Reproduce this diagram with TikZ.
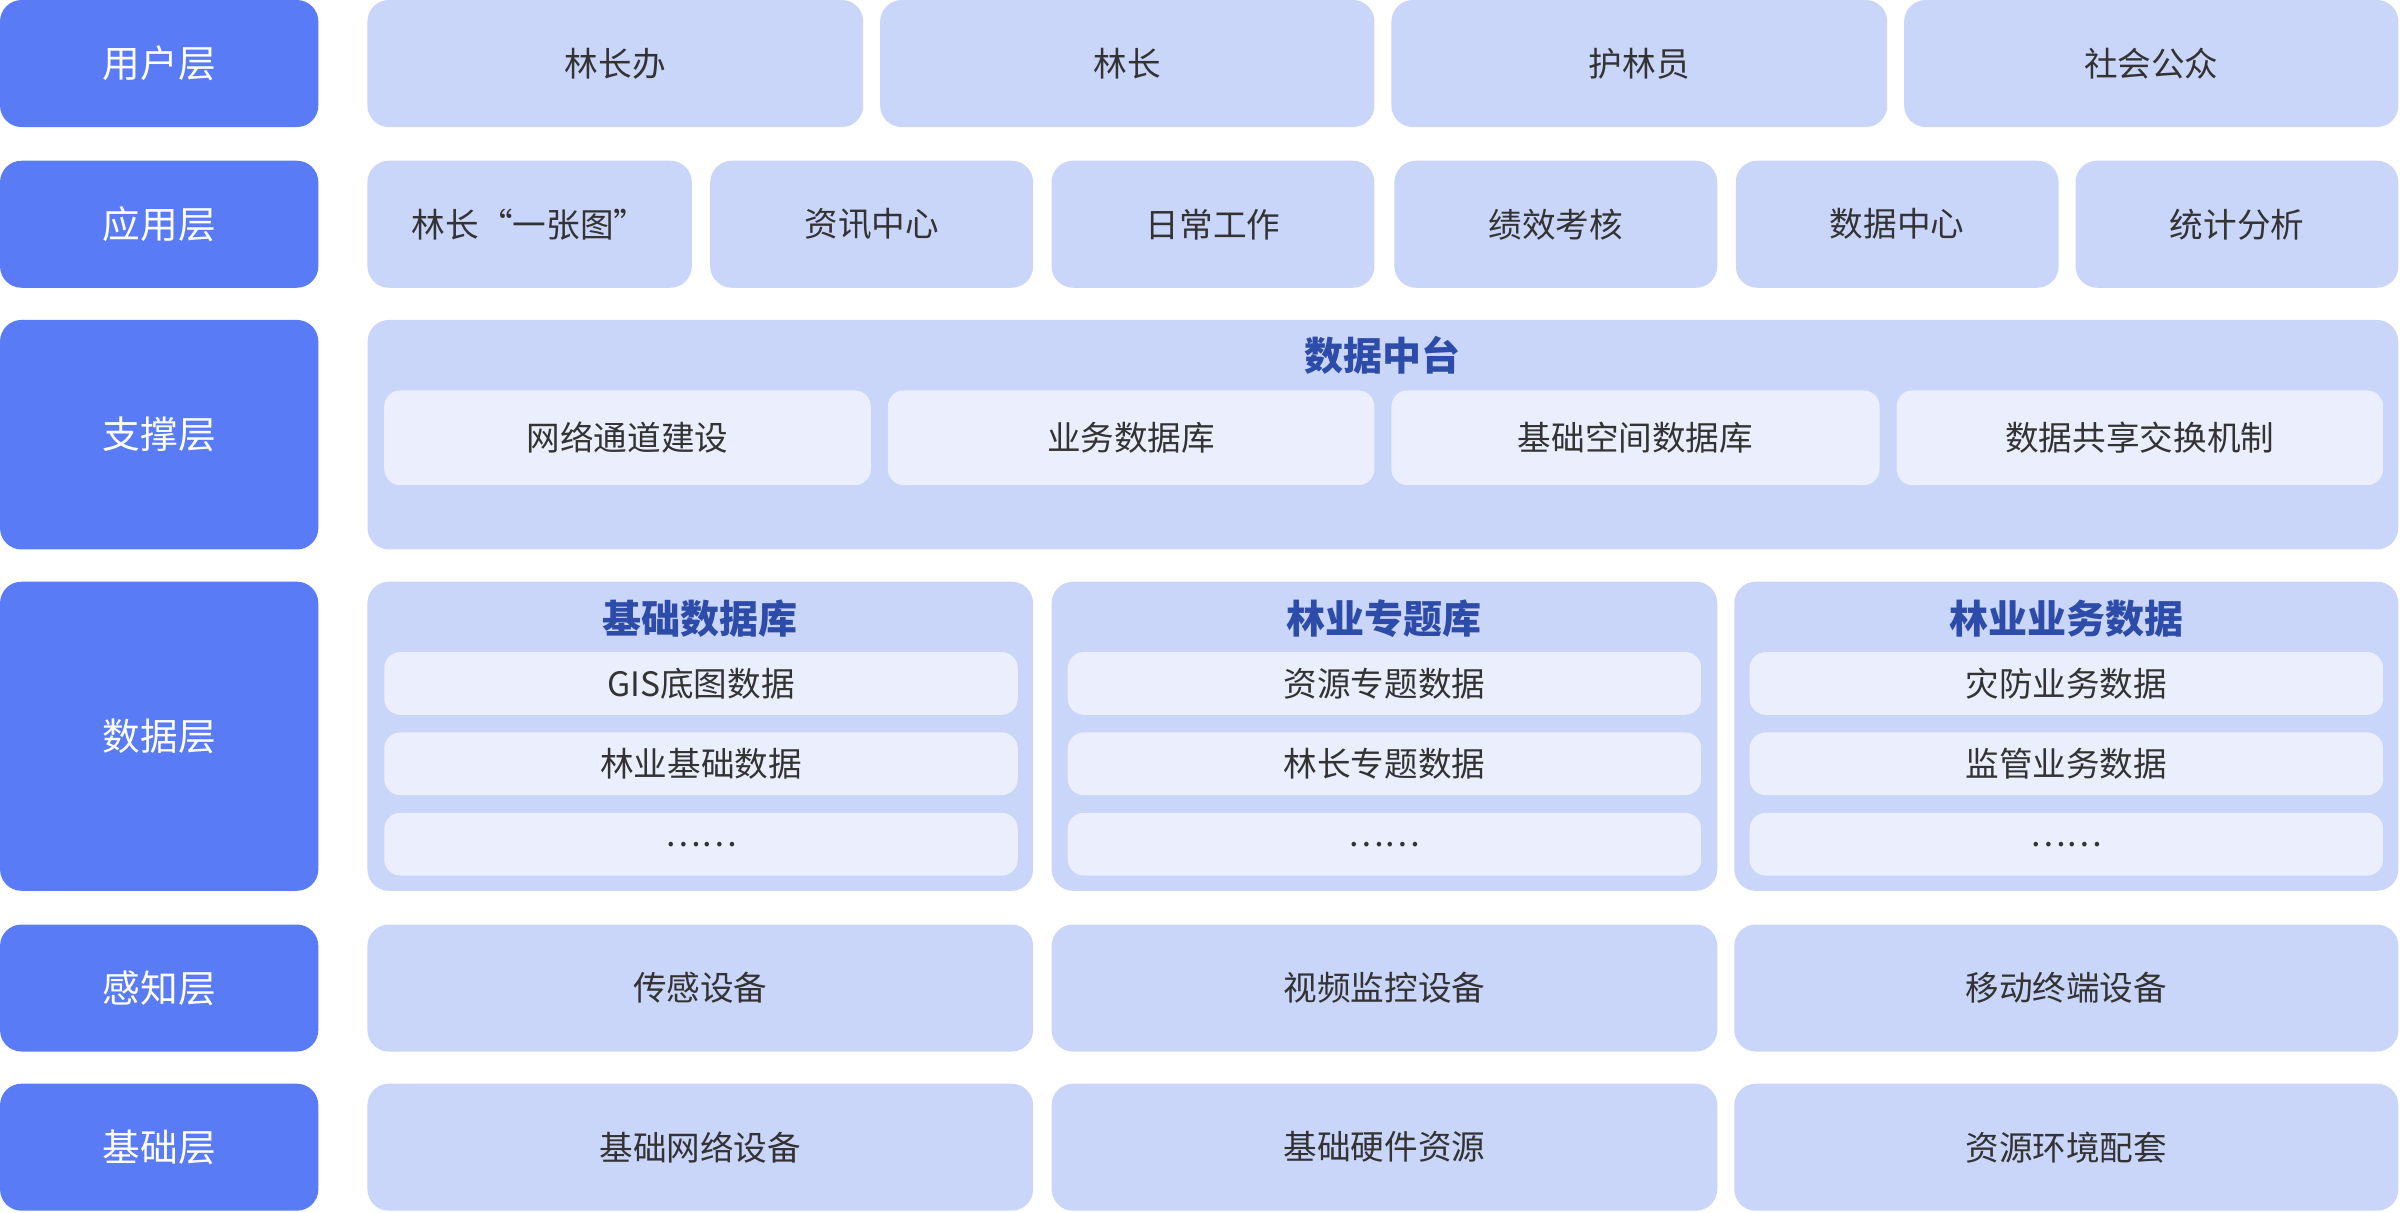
\documentclass[tikz,border=0pt]{standalone}
\usepackage{fontspec}
\setmainfont{Noto Sans CJK SC}
\usetikzlibrary{positioning}
\definecolor{layerblue}{HTML}{5A7BF6}
\definecolor{cellblue}{HTML}{C9D5F9}
\definecolor{itemblue}{HTML}{EAEEFD}
\definecolor{titleblue}{HTML}{2D4BA8}
\definecolor{txt}{HTML}{333333}
\tikzset{
  box/.style={rounded corners=8pt, inner sep=0pt, outer sep=0pt, font=\fontsize{12.5}{14}\selectfont, text=txt},
  layer/.style={box, fill=layerblue, text=white, minimum width=4.16cm, font=\fontsize{14}{16}\selectfont},
  cell/.style={box, fill=cellblue},
  item/.style={box, fill=itemblue, rounded corners=6pt},
  ptitle/.style={font=\bfseries\fontsize{14.5}{16}\selectfont, text=titleblue}
}
\begin{document}
\begin{tikzpicture}[x=0.02cm, y=-0.02cm]
\useasboundingbox (0,0) rectangle (1568,792);

% layers
\node (user)  at (104, 41.5) [layer, minimum height=1.66cm] {用户层};
\node (app)   at (104,146.5) [layer, minimum height=1.66cm] {应用层};
\node (supp)  at (104,284)   [layer, minimum height=3.0cm]  {支撑层};
\node (data)  at (104,481)   [layer, minimum height=4.04cm] {数据层};
\node (sense) at (104,645.5) [layer, minimum height=1.66cm] {感知层};
\node (base)  at (104,749.5) [layer, minimum height=1.66cm] {基础层};

% user layer
\node (u1) at (402,41.5)  [cell, minimum width=6.48cm, minimum height=1.66cm] {林长办};
\node (u2) at (736.5,41.5) [cell, minimum width=6.46cm, minimum height=1.66cm] {林长};
\node (u3) at (1071,41.5) [cell, minimum width=6.48cm, minimum height=1.66cm] {护林员};
\node (u4) at (1405.5,41.5) [cell, minimum width=6.46cm, minimum height=1.66cm] {社会公众};

% application layer
\node (a1) at (346,146.5)  [cell, minimum width=4.24cm, minimum height=1.66cm] {林长“一张图”};
\node (a2) at (569.5,146.5) [cell, minimum width=4.22cm, minimum height=1.66cm] {资讯中心};
\node (a3) at (792.5,146.5) [cell, minimum width=4.22cm, minimum height=1.66cm] {日常工作};
\node (a4) at (1016.5,146.5) [cell, minimum width=4.22cm, minimum height=1.66cm] {绩效考核};
\node (a5) at (1239.5,146.5) [cell, minimum width=4.22cm, minimum height=1.66cm] {数据中心};
\node (a6) at (1461.5,146.5) [cell, minimum width=4.22cm, minimum height=1.66cm] {统计分析};

% support layer
\node (hub) at (903.5,284) [cell, minimum width=26.54cm, minimum height=3.0cm] {};
\node (hubt) at (903.5,232) [ptitle] {数据中台};
\node (s1) at (410,286)    [item, minimum width=6.36cm, minimum height=1.24cm] {网络通道建设};
\node (s2) at (739,286)    [item, minimum width=6.36cm, minimum height=1.24cm] {业务数据库};
\node (s3) at (1068.5,286) [item, minimum width=6.38cm, minimum height=1.24cm] {基础空间数据库};
\node (s4) at (1398,286)   [item, minimum width=6.36cm, minimum height=1.24cm] {数据共享交换机制};

% data layer
\node (d1) at (457.5,481)  [cell, minimum width=8.7cm, minimum height=4.04cm] {};
\node (d2) at (904.5,481)  [cell, minimum width=8.7cm, minimum height=4.04cm] {};
\node (d3) at (1350,481)   [cell, minimum width=8.68cm, minimum height=4.04cm] {};
\node (d1t) at (457.5,404) [ptitle] {基础数据库};
\node (d2t) at (904.5,404) [ptitle] {林业专题库};
\node (d3t) at (1350,404)  [ptitle] {林业业务数据};
\node (d11) at (458,446.5) [item, minimum width=8.28cm, minimum height=0.82cm] {GIS底图数据};
\node (d12) at (458,499)   [item, minimum width=8.28cm, minimum height=0.82cm] {林业基础数据};
\node (d13) at (458,551.5) [item, minimum width=8.28cm, minimum height=0.82cm] {……};
\node (d21) at (904.5,446.5) [item, minimum width=8.28cm, minimum height=0.82cm] {资源专题数据};
\node (d22) at (904.5,499)   [item, minimum width=8.28cm, minimum height=0.82cm] {林长专题数据};
\node (d23) at (904.5,551.5) [item, minimum width=8.28cm, minimum height=0.82cm] {……};
\node (d31) at (1350,446.5) [item, minimum width=8.28cm, minimum height=0.82cm] {灾防业务数据};
\node (d32) at (1350,499)   [item, minimum width=8.28cm, minimum height=0.82cm] {监管业务数据};
\node (d33) at (1350,551.5) [item, minimum width=8.28cm, minimum height=0.82cm] {……};

% sensing layer
\node (p1) at (457.5,645.5) [cell, minimum width=8.7cm, minimum height=1.66cm] {传感设备};
\node (p2) at (904.5,645.5) [cell, minimum width=8.7cm, minimum height=1.66cm] {视频监控设备};
\node (p3) at (1350,645.5)  [cell, minimum width=8.68cm, minimum height=1.66cm] {移动终端设备};

% base layer
\node (b1) at (457.5,749.5) [cell, minimum width=8.7cm, minimum height=1.66cm] {基础网络设备};
\node (b2) at (904.5,749.5) [cell, minimum width=8.7cm, minimum height=1.66cm] {基础硬件资源};
\node (b3) at (1350,749.5)  [cell, minimum width=8.68cm, minimum height=1.66cm] {资源环境配套};

\end{tikzpicture}
\end{document}
